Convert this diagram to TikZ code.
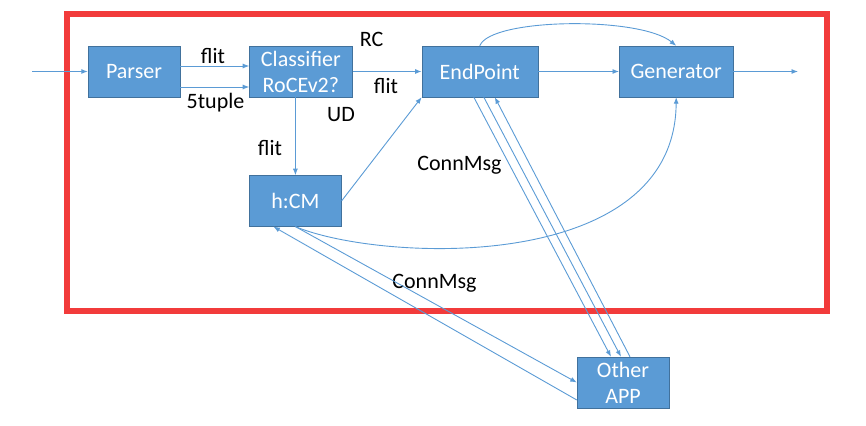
\documentclass[tikz,border=0pt]{standalone}
\usepackage{fontspec}
\setmainfont{Carlito}
\usetikzlibrary{arrows.meta, positioning}
\definecolor{boxblue}{HTML}{5B9BD5}
\definecolor{boxedge}{HTML}{41719C}
\definecolor{framered}{HTML}{F23B3B}

\begin{document}
\begin{tikzpicture}[x=1pt, y=-1pt,
        box/.style={draw=boxedge, fill=boxblue, text=white, inner sep=0pt,
                    minimum width=92pt, minimum height=51pt, align=center,
                    font=\fontsize{22}{26}\selectfont},
        lbl/.style={font=\fontsize{22}{26}\selectfont, inner sep=0pt},
        arr/.style={-{Latex[length=6.5pt,width=5pt]}, line width=0.9pt, boxblue}
    ]
        \useasboundingbox (0,0) rectangle (866,425);
        \draw[framered, line width=6pt] (67,14) rectangle (826.5,310.5);
        \node[box] (parser) at (134,71.5) {Parser};
        \node[box, minimum width=103pt, right=69pt of parser] (classifier) {Classifier\\RoCEv2?};
        \node[box, minimum width=116pt, right=69pt of classifier] (endpoint) {EndPoint};
        \node[box, minimum width=114pt, right=81pt of endpoint] (generator) {Generator};
        \node[box, below right=78pt and 0pt of classifier.south west] (hcm) {h:CM};
        \node[box] (otherapp) at (623,382.5) {Other\\APP};
        \coordinate (in) at (32,71.5);
        \coordinate (out) at (798,71.5);
        \node[lbl] (flitA) at (213,56) {flit};
        \node[lbl] (tuple) at (215.5,103) {5tuple};
        \node[lbl] (rc) at (371.5,39) {RC};
        \node[lbl] (flitB) at (386,86) {flit};
        \node[lbl] (ud) at (341,115) {UD};
        \node[lbl] (flitC) at (270,148) {flit};
        \node[lbl] (connA) at (459.5,165) {ConnMsg};
        \node[lbl] (connB) at (434.5,283) {ConnMsg};
        \draw[arr] (in) -- (parser);
        \draw[arr] ([yshift=5.5pt]parser.east) -- ([yshift=5.5pt]classifier.west);
        \draw[arr] ([yshift=-15.5pt]parser.east) -- ([yshift=-15.5pt]classifier.west);
        \draw[arr] (classifier) -- (endpoint);
        \draw[arr] (hcm.north |- classifier.south) -- (hcm.north);
        \draw[arr] (hcm.east) -- (endpoint.south west);
        \draw[arr] (endpoint) -- (generator);
        \draw[arr] (generator) -- (out);
        \draw[arr] (endpoint.north) .. controls (490,18) and (640,16) .. (generator.north);
        \draw[arr] (hcm.south) .. controls (380,262) and (675,275) .. (generator.south);
        \draw[arr] (hcm.south) -- (otherapp.west);
        \draw[arr] ([yshift=-17.5pt]otherapp.west) -- ([xshift=-22pt]hcm.south);
        \draw[arr] ([xshift=-6pt]endpoint.south) -- ([xshift=-12pt]otherapp.north);
        \draw[arr] ([xshift=4pt]endpoint.south) -- ([xshift=-2pt]otherapp.north);
        \draw[arr] ([xshift=7pt]otherapp.north) -- ([xshift=15pt]endpoint.south);
    \end{tikzpicture}
\end{document}
